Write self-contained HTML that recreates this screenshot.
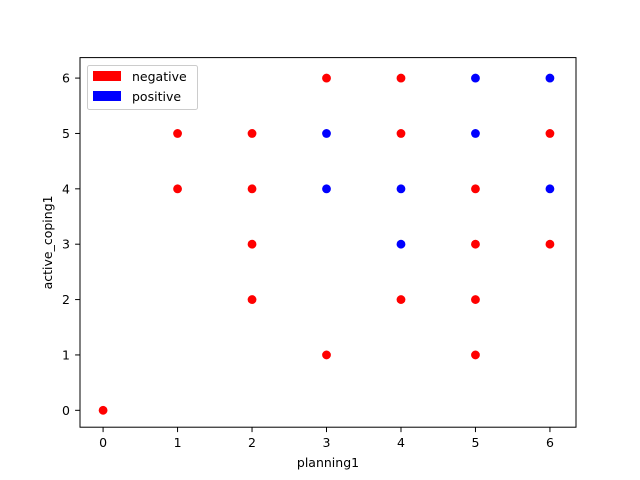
<!DOCTYPE html>
<html><head><meta charset="utf-8"><style>body{margin:0;background:#fff}svg{display:block;font-family:"DejaVu Sans","Liberation Sans",sans-serif}</style></head>
<body>
<svg id="c" width="640" height="480"></svg>
<script>
const xTicks=[0,1,2,3,4,5,6];
const yTicks=[0,1,2,3,4,5,6];
const redX=[0,1,1,2,2,2,2,3,3,4,4,4,5,5,5,5,6,6];
const redY=[0,4,5,2,3,4,5,1,6,2,5,6,1,2,3,4,3,5];
const blueX=[3,3,4,4,5,5,6,6];
const blueY=[4,5,3,4,5,6,4,6];
const svg=document.getElementById('c');
const NS='http://www.w3.org/2000/svg';
const L=80,R=576,T=57.6,B=427.2;
const X0=-0.31,X1=6.35,Y0=-0.305,Y1=6.37;
const sx=v=>L+(v-X0)/(X1-X0)*(R-L);
const sy=v=>B-(v-Y0)/(Y1-Y0)*(B-T);
function mk(t,a,p){const e=document.createElementNS(NS,t);for(const k in a)e.setAttribute(k,a[k]);(p||svg).appendChild(e);return e;}
const pts=mk('g',{});


redX.forEach((x,i)=>{const c=mk('circle',{cx:sx(x),cy:sy(redY[i]),r:4.4,fill:'#ff0000'},pts);

});
blueX.forEach((x,i)=>{const c=mk('circle',{cx:sx(x),cy:sy(blueY[i]),r:4.4,fill:'#0000ff'},pts);

});
const frame=mk('rect',{x:L,y:T,width:R-L,height:B-T,fill:'none',stroke:'#000','stroke-width':1});


xTicks.forEach(v=>{mk('line',{x1:sx(v),x2:sx(v),y1:B,y2:B+4.9,stroke:'#000','stroke-width':1});
const t=mk('text',{x:sx(v),y:447,'font-size':12.5,'text-anchor':'middle'});t.textContent=v;

});
yTicks.forEach(v=>{mk('line',{x1:L,x2:L-4.9,y1:sy(v),y2:sy(v),stroke:'#000','stroke-width':1});
const t=mk('text',{x:70,y:sy(v)+4.5,'font-size':12.5,'text-anchor':'end'});t.textContent=v;

});
const xt=mk('text',{x:(L+R)/2,y:467,'font-size':12.5,'text-anchor':'middle'});xt.textContent='planning1';


const yt=mk('text',{x:52,y:(T+B)/2,'font-size':12.5,'text-anchor':'middle',transform:`rotate(-90 52 ${(T+B)/2})`});yt.textContent='active_coping1';


const lg=mk('g',{});


mk('rect',{x:87.5,y:65.5,width:110,height:44,rx:2,fill:'#fff',stroke:'#ccc','stroke-width':1},lg);
mk('rect',{x:93,y:71,width:28,height:10,fill:'#ff0000'},lg);
mk('rect',{x:93,y:91,width:28,height:10,fill:'#0000ff'},lg);
const t1=mk('text',{x:132,y:81,'font-size':12.5},lg);t1.textContent='negative';


const t2=mk('text',{x:132,y:101,'font-size':12.5},lg);t2.textContent='positive';


</script>
</body></html>
